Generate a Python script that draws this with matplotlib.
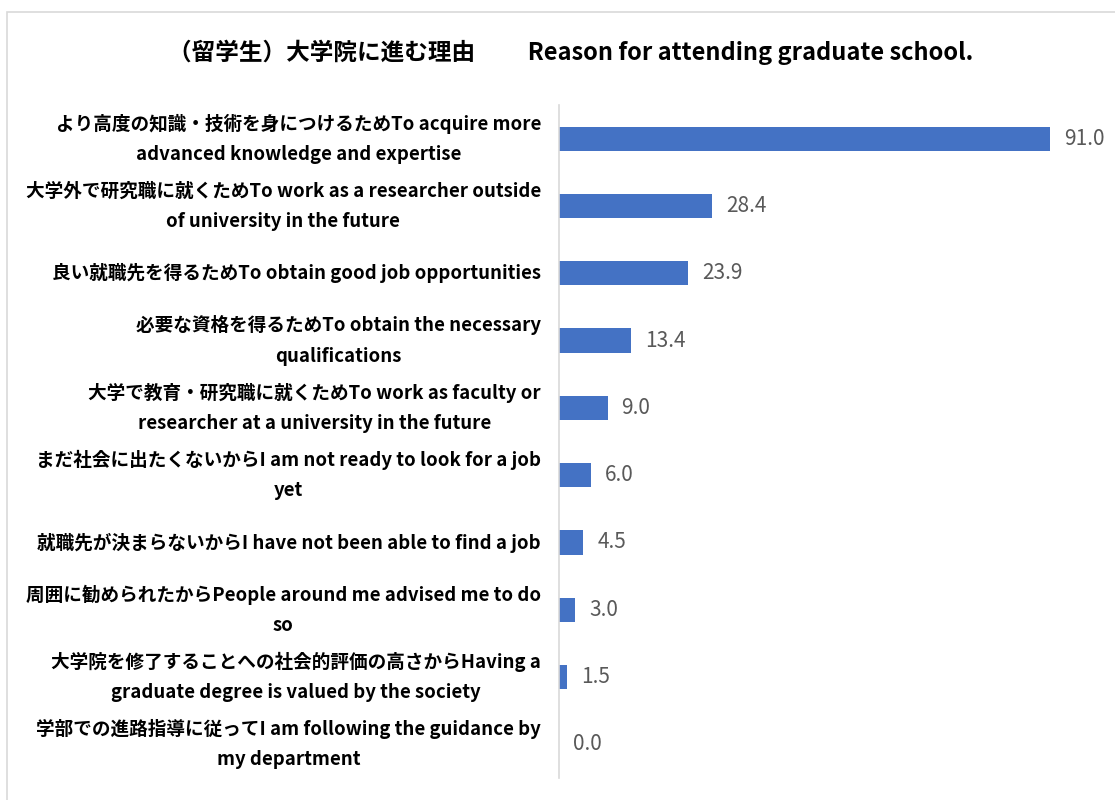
import matplotlib
matplotlib.use("Agg")
import matplotlib.pyplot as plt
from matplotlib.patches import Rectangle

plt.rcParams['font.family'] = ['Noto Sans CJK JP', 'DejaVu Sans']

# data (top to bottom)
reasons = [
    "より高度の知識・技術を身につけるためTo acquire more\nadvanced knowledge and expertise",
    "大学外で研究職に就くためTo work as a researcher outside\nof university in the future",
    "良い就職先を得るためTo obtain good job opportunities",
    "必要な資格を得るためTo obtain the necessary\nqualifications",
    "大学で教育・研究職に就くためTo work as faculty or\nresearcher at a university in the future",
    "まだ社会に出たくないからI am not ready to look for a job\nyet",
    "就職先が決まらないからI have not been able to find a job",
    "周囲に勧められたからPeople around me advised me to do\nso",
    "大学院を修了することへの社会的評価の高さからHaving a\ngraduate degree is valued by the society",
    "学部での進路指導に従ってI am following the guidance by\nmy department",
]
values = [91.0, 28.4, 23.9, 13.4, 9.0, 6.0, 4.5, 3.0, 1.5, 0.0]
title = "（留学生）大学院に進む理由　　 Reason for attending graduate school."

bar_color = "#4472C4"

fig = plt.figure(figsize=(11.15, 8), dpi=100)
# light frame around chart area
fig.patches.append(Rectangle((7 / 1115, -0.1), 1.2, 1.1 - 12 / 800,
                             transform=fig.transFigure, fill=False,
                             edgecolor="#D9D9D9", linewidth=1.2))

ax = fig.add_axes([559 / 1115, 22 / 800, 540 / 1115, 673 / 800])
ypos = list(range(len(values)))
ax.barh(ypos, values, height=0.36, color=bar_color)
ax.set_xlim(0, 100)
ax.set_ylim(len(values) - 0.5, -0.5)

ax.set_yticks(ypos)
ax.set_yticklabels(reasons, fontsize=13.4, fontweight="bold", color="#000000",
                   multialignment="center", linespacing=1.75)
for lbl in ax.get_yticklabels():
    lbl.set_va("center")
ax.tick_params(axis="y", length=0, pad=13)
ax.set_xticks([])

for s in ["top", "right", "bottom"]:
    ax.spines[s].set_visible(False)
ax.spines["left"].set_color("#D9D9D9")
ax.spines["left"].set_linewidth(1.2)

for y, v in zip(ypos, values):
    ax.annotate(f"{v:.1f}", (v, y), xytext=(10, 0), textcoords="offset points",
                va="center", ha="left", fontsize=15, color="#595959")

fig.text(571 / 1115, 1 - 52 / 800, title, ha="center", va="center",
         fontsize=17, fontweight="bold", color="#000000")

fig.savefig("out.png", dpi=100)
